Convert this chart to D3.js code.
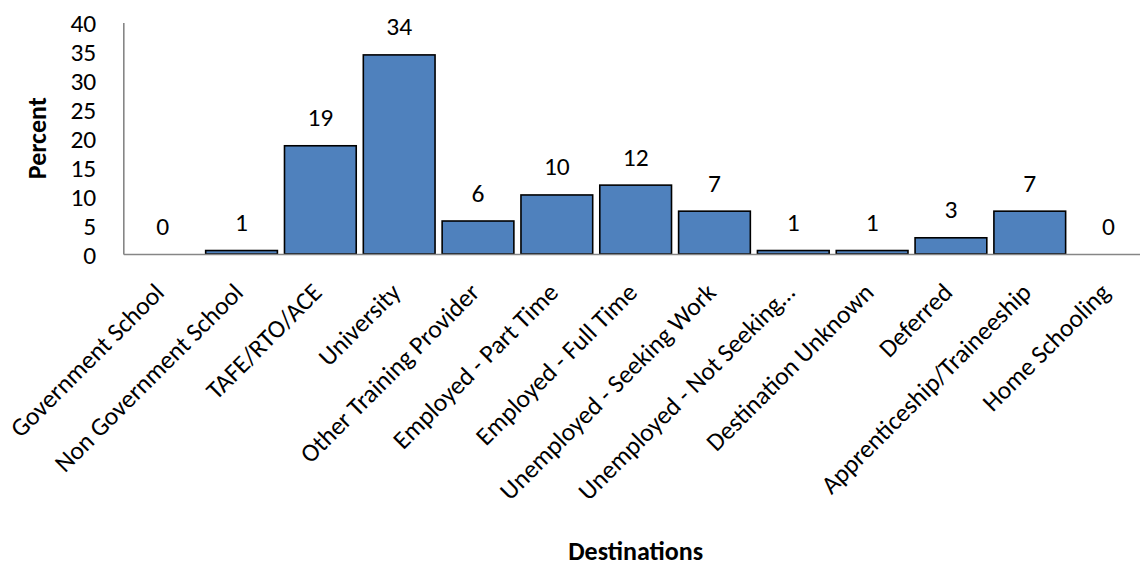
<!DOCTYPE html>
<html>
<head>
<meta charset="utf-8">
<script src="https://cdn.jsdelivr.net/npm/d3@7"></script>
<style>
  html, body { margin: 0; padding: 0; background: #fff; }
  svg { display: block; font-family: Carlito, Calibri, Lato, sans-serif; }
</style>
</head>
<body>
<svg id="chart" width="1140" height="567"></svg>
<script>
// Post-school destinations, percent of students
const categories = [
  "Government School",
  "Non Government School",
  "TAFE/RTO/ACE",
  "University",
  "Other Training Provider",
  "Employed - Part Time",
  "Employed - Full Time",
  "Unemployed - Seeking Work",
  "Unemployed - Not Seeking…",
  "Destination Unknown",
  "Deferred",
  "Apprenticeship/Traineeship",
  "Home Schooling"
];
const percents = [0, 0.6, 18.7, 34.4, 5.7, 10.2, 11.9, 7.4, 0.6, 0.6, 2.8, 7.4, 0];
const yTickValues = [0, 5, 10, 15, 20, 25, 30, 35, 40];

const FONT = "Carlito, Calibri, Lato, sans-serif";
const LABEL_SIZE = 25.5;
const TITLE_SIZE = 26;

const svg = d3.select("#chart");
const plot = { left: 123.3, right: 1148, top: 22.5, bottom: 254 };

const x = d3.scaleBand()
  .domain(categories)
  .range([plot.left, plot.right])
  .paddingInner(0.09)
  .paddingOuter(0.045);

const y = d3.scaleLinear()
  .domain([0, 40])
  .range([plot.bottom, plot.top]);

const data = categories.map((c, i) => ({ category: c, value: percents[i] }));
const fmt = d3.format(".0f");

// Bars
svg.append("g")
  .selectAll("rect")
  .data(data)
  .join("rect")
  .attr("x", d => x(d.category))
  .attr("y", d => y(d.value))
  .attr("width", x.bandwidth())
  .attr("height", d => y(0) - y(d.value))
  .attr("fill", "#4F81BD")
  .attr("stroke", "#000")
  .attr("stroke-width", 1.6);

// Y axis: line plus labels, no tick marks
const yAxis = svg.append("g")
  .attr("transform", `translate(${plot.left},0)`)
  .call(d3.axisLeft(y).tickValues(yTickValues).tickSize(0).tickPadding(27));
yAxis.select(".domain").attr("stroke", "#868686").attr("stroke-width", 1.6);
yAxis.selectAll("text")
  .attr("font-family", FONT)
  .attr("font-size", LABEL_SIZE)
  .attr("fill", "#000")
  .attr("dy", "0.36em");

// X axis: baseline and rotated category labels
const xAxis = svg.append("g")
  .attr("transform", `translate(0,${plot.bottom})`)
  .call(d3.axisBottom(x).tickSize(0).tickPadding(0));
xAxis.select(".domain").attr("stroke", "#868686").attr("stroke-width", 1.6);
xAxis.selectAll(".tick text")
  .attr("font-family", FONT)
  .attr("font-size", LABEL_SIZE)
  .attr("fill", "#000")
  .attr("text-anchor", "end")
  .attr("dy", 0)
  .attr("y", 0)
  .attr("transform", "translate(3,40) rotate(-45)");

// Value labels
svg.append("g")
  .selectAll("text")
  .data(data)
  .join("text")
  .attr("x", d => x(d.category) + x.bandwidth() / 2)
  .attr("y", d => y(d.value) - 19.5)
  .attr("text-anchor", "middle")
  .attr("font-size", LABEL_SIZE)
  .attr("fill", "#000")
  .text(d => fmt(d.value));

// Axis titles
svg.append("text")
  .attr("transform", `translate(46,${(plot.top + plot.bottom) / 2}) rotate(-90)`)
  .attr("text-anchor", "middle")
  .attr("font-size", TITLE_SIZE)
  .attr("font-weight", "bold")
  .text("Percent");

svg.append("text")
  .attr("x", (plot.left + plot.right) / 2)
  .attr("y", 560)
  .attr("text-anchor", "middle")
  .attr("font-size", TITLE_SIZE)
  .attr("font-weight", "bold")
  .text("Destinations");
</script>
</body>
</html>
